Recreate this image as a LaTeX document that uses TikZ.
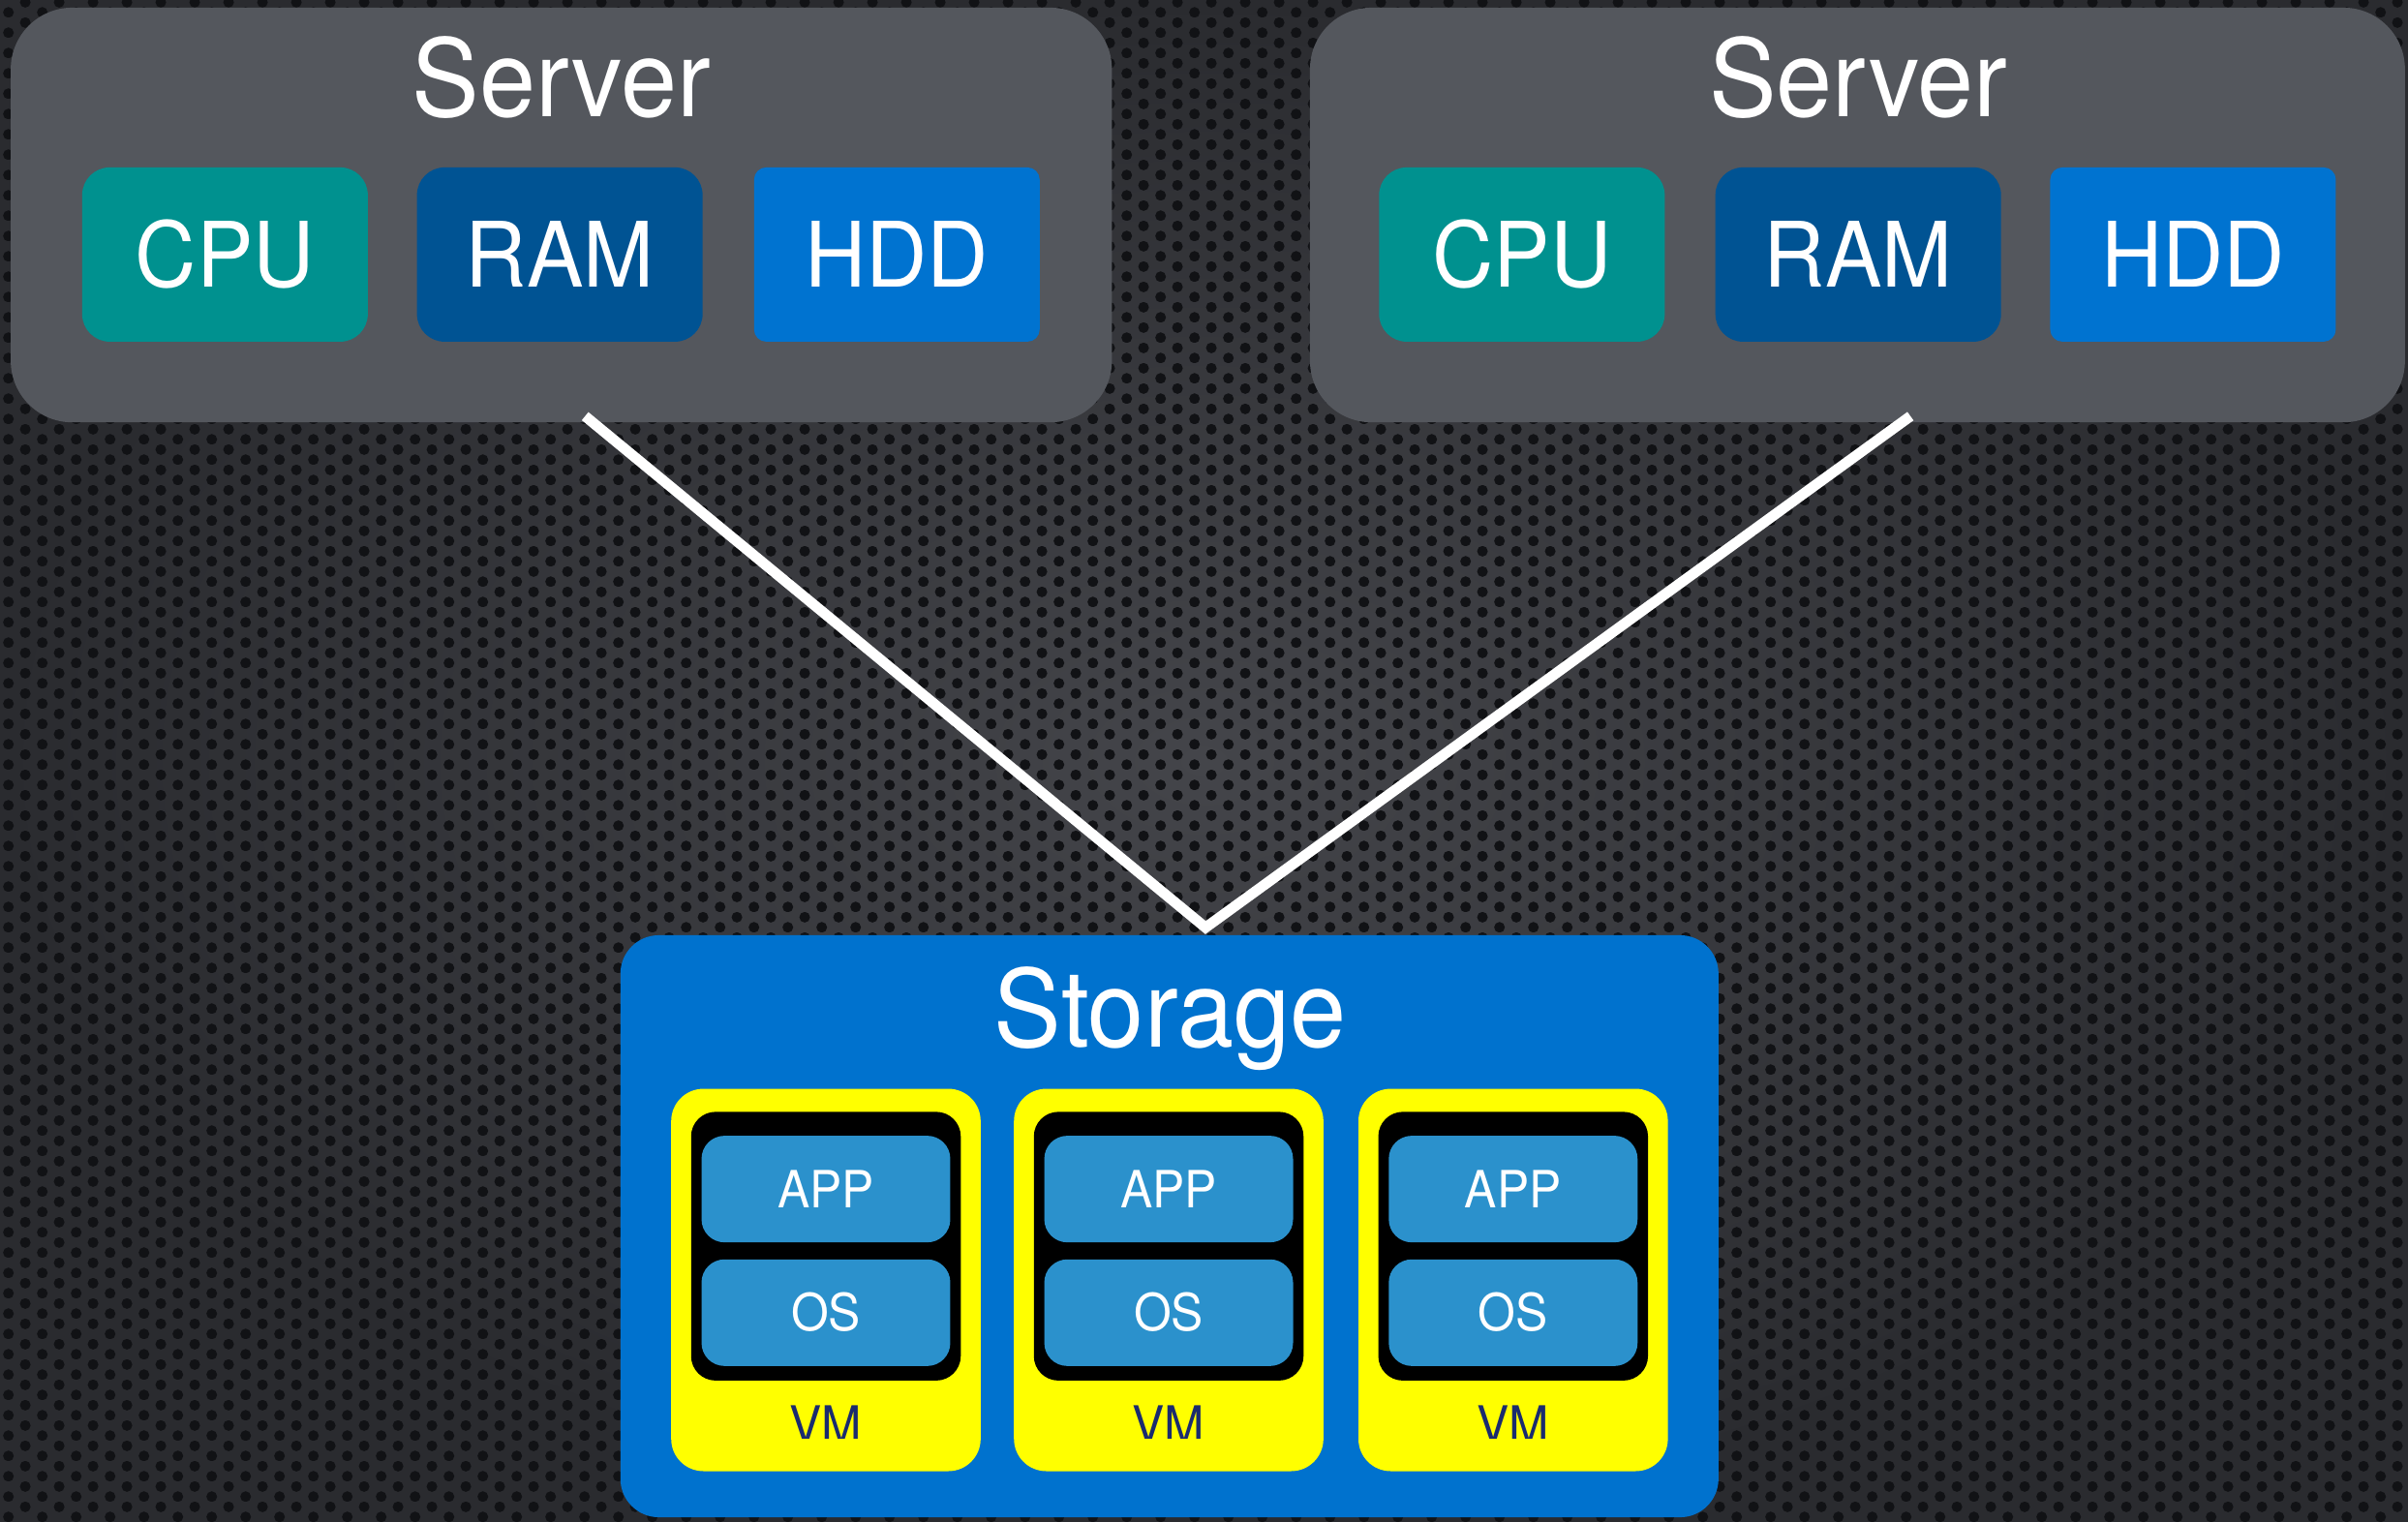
\documentclass[tikz,border=0pt]{standalone}
\usepackage{fontspec}
\setmainfont{TeX Gyre Heros}[FakeStretch=0.94]
\usetikzlibrary{patterns}
\definecolor{webgray}{HTML}{44454A}
\definecolor{webdark}{HTML}{2A2B2F}
\definecolor{holecol}{HTML}{111215}
\definecolor{srvgray}{HTML}{54575D}
\definecolor{cpuc}{HTML}{00918F}
\definecolor{ramc}{HTML}{005393}
\definecolor{hddc}{HTML}{0073D0}
\definecolor{storc}{HTML}{0072CE}
\definecolor{vmyellow}{HTML}{FFFF00}
\definecolor{layerc}{HTML}{2B91CC}
\definecolor{vmtext}{HTML}{1A2B6E}
\pgfdeclarepatternformonly{holes}{\pgfqpoint{0pt}{0pt}}{\pgfqpoint{11pt}{6.6pt}}{\pgfqpoint{11pt}{6.6pt}}{%
  \pgfpathcircle{\pgfqpoint{2.75pt}{1.65pt}}{1.75pt}%
  \pgfpathcircle{\pgfqpoint{8.25pt}{4.95pt}}{1.75pt}%
  \pgfusepath{fill}}
\newcommand\fbig{\fontsize{35}{40}\selectfont}
\newcommand\fmid{\fontsize{29.4}{34}\selectfont}
\newcommand\fsml{\fontsize{16.7}{20}\selectfont}
\tikzset{
  txt/.style={anchor=base, inner sep=0pt, outer sep=0pt},
  srv/.style={fill=srvgray, rounded corners=20pt, inner sep=0pt, minimum height=135pt},
  part/.style={rounded corners=9pt, inner sep=0pt, minimum height=56.75pt, minimum width=93pt},
  stor/.style={fill=storc, rounded corners=12.5pt, inner sep=0pt, minimum width=357.5pt, minimum height=189.5pt},
  vmbox/.style={fill=vmyellow, rounded corners=10.5pt, inner sep=0pt, minimum width=100.75pt, minimum height=124.5pt},
  vmin/.style={fill=black, rounded corners=8pt, inner sep=0pt, minimum width=87.8pt, minimum height=87.5pt},
  layer/.style={fill=layerc, rounded corners=7.5pt, inner sep=0pt, minimum width=81pt, minimum height=34.7pt},
  link/.style={white, line width=3.4pt, line join=miter}
}
% name, x, y, font, text colour, text
\newcommand\lbl[6]{%
  \node[txt, text=#5] (#1) at (#2,#3) {#4#6};}
\begin{document}
\begin{tikzpicture}[x=0.5pt,y=-0.5pt]
\useasboundingbox (0,0) rectangle (1568,991.1);
% background
\shade[inner color=webgray, outer color=webdark] (0,0) rectangle (1568,991.1);
\fill[pattern=holes, pattern color=holecol] (0,0) rectangle (1568,991.1);

% servers
\node[srv, minimum width=358.5pt] (srvL) at (365.5,140) {};
\node[srv, minimum width=356.5pt] (srvR) at (1209.5,140) {};
\lbl{tsrvL}{365.5}{75.7}{\fbig}{white}{Server}
\lbl{tsrvR}{1210}{75.7}{\fbig}{white}{Server}

\node[part, fill=cpuc] (cpuL) at (146.5,165.75) {};
\node[part, fill=ramc] (ramL) at (364.5,165.75) {};
\node[part, fill=hddc, rounded corners=4pt] (hddL) at (584,165.75) {};
\node[part, fill=cpuc] (cpuR) at (991,165.75) {};
\node[part, fill=ramc] (ramR) at (1210,165.75) {};
\node[part, fill=hddc, rounded corners=4pt] (hddR) at (1428,165.75) {};
\lbl{tcpuL}{146.5}{186.9}{\fmid}{white}{CPU}
\lbl{tramL}{364.5}{186.9}{\fmid}{white}{RAM}
\lbl{thddL}{584}{186.9}{\fmid}{white}{HDD}
\lbl{tcpuR}{991}{186.9}{\fmid}{white}{CPU}
\lbl{tramR}{1210}{186.9}{\fmid}{white}{RAM}
\lbl{thddR}{1428}{186.9}{\fmid}{white}{HDD}

% links
\coordinate (pL) at (381,271);
\coordinate (pR) at (1244,271);
\coordinate (apex) at (785,604);
\draw[link] (pL) -- (apex) -- (pR);

% storage
\node[stor] (storage) at (761.5,798.5) {};
\lbl{tstor}{762}{681.6}{\fbig}{white}{Storage}

\foreach \i/\cx in {1/537.8,2/761,3/985.3}{
  \node[vmbox] (vm\i) at (\cx,833.5) {};
  \node[vmin] (vmb\i) at (\cx,811.5) {};
  \node[layer] (app\i) at (\cx,774.3) {};
  \node[layer] (os\i) at (\cx,854.8) {};
  \lbl{tapp\i}{\cx}{786.3}{\fsml}{white}{APP}
  \lbl{tos\i}{\cx}{866.5}{\fsml}{white}{OS}
  \begin{scope}
    \clip (\cx-60,890) rectangle (\cx+60,936.5);
    \lbl{tvm\i}{\cx}{939.5}{\fsml}{vmtext}{VM}
  \end{scope}
}
\end{tikzpicture}
\end{document}
